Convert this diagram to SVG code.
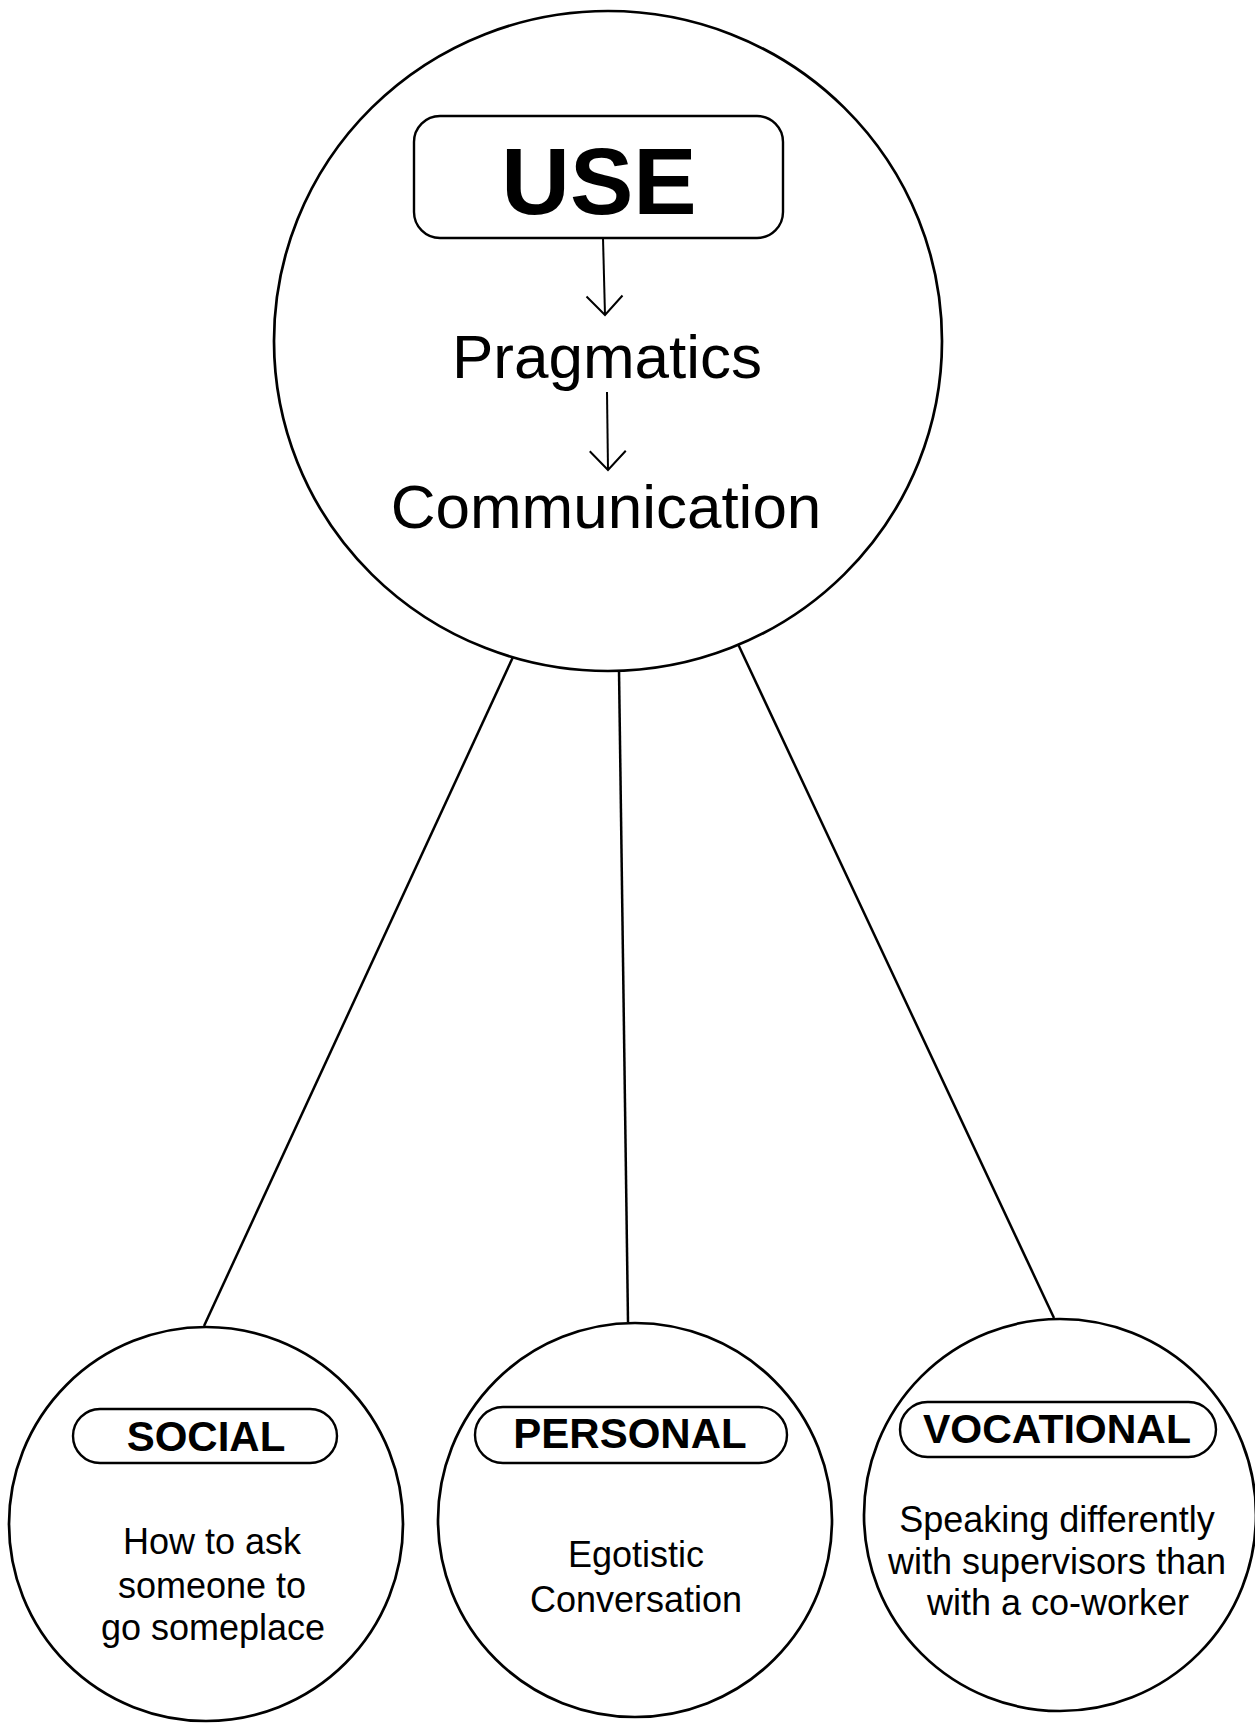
<svg xmlns="http://www.w3.org/2000/svg" width="1255" height="1723" viewBox="0 0 1255 1723">
  <style>
    .ring { fill: none; stroke: #000; stroke-width: 2.7; }
    .pill { fill: none; stroke: #000; stroke-width: 2.4; }
    .link { fill: none; stroke: #000; stroke-width: 2.5; }
    .flow { fill: none; stroke: #000; stroke-width: 2; }
    .title { font-family: "Liberation Sans", Arial, sans-serif; font-weight: bold; fill: #000; text-anchor: middle; }
    .big { font-family: "Liberation Sans", Arial, sans-serif; fill: #000; text-anchor: middle; font-size: 62px; }
    .body { font-family: "Liberation Sans", Arial, sans-serif; fill: #000; text-anchor: middle; font-size: 36px; }
  </style>
  <defs>
    <marker id="vhead" markerUnits="userSpaceOnUse" markerWidth="44" markerHeight="44" refX="0" refY="0" viewBox="-22 -22 44 44" orient="auto">
      <path d="M-19,-18 L0,0 L-19,18" fill="none" stroke="#000" stroke-width="2"/>
    </marker>
  </defs>
  <rect width="1255" height="1723" fill="#fff"/>

  <!-- spokes from the central circle down to the three domains -->
  <g id="connectors">
    <line class="link" x1="513" y1="657" x2="204" y2="1326"/>
    <line class="link" x1="619" y1="670" x2="628" y2="1322"/>
    <line class="link" x1="738" y1="644" x2="1054" y2="1318"/>
    <line class="flow" x1="603" y1="238" x2="605" y2="315" marker-end="url(#vhead)"/>
    <line class="flow" x1="607" y1="392" x2="608" y2="470" marker-end="url(#vhead)"/>
  </g>

  <!-- central concept -->
  <g id="use">
    <ellipse class="ring" cx="608" cy="341" rx="334" ry="330"/>
    <rect class="pill" x="414" y="116" width="369" height="122" rx="26"/>
    <text class="title" x="599" y="214" font-size="95">USE</text>
    <text class="big" x="607" y="378">Pragmatics</text>
    <text class="big" x="606" y="528">Communication</text>
  </g>

  <g id="social">
    <circle class="ring" cx="206" cy="1524" r="197"/>
    <rect class="pill" x="73" y="1409" width="264" height="54" rx="27"/>
    <text class="title" x="206" y="1451" font-size="42">SOCIAL</text>
    <text class="body" x="212" y="1554">How to ask</text>
    <text class="body" x="212" y="1598">someone to</text>
    <text class="body" x="213" y="1640">go someplace</text>
  </g>

  <g id="personal">
    <circle class="ring" cx="635" cy="1520" r="197"/>
    <rect class="pill" x="475" y="1407" width="312" height="56" rx="28"/>
    <text class="title" x="630" y="1448" font-size="42">PERSONAL</text>
    <text class="body" x="636" y="1567">Egotistic</text>
    <text class="body" x="636" y="1612">Conversation</text>
  </g>

  <g id="vocational">
    <circle class="ring" cx="1060" cy="1515" r="196"/>
    <rect class="pill" x="900" y="1402" width="316" height="55" rx="27.5"/>
    <text class="title" x="1057" y="1443" font-size="41">VOCATIONAL</text>
    <text class="body" x="1057" y="1532">Speaking differently</text>
    <text class="body" x="1057" y="1574">with supervisors than</text>
    <text class="body" x="1058" y="1615">with a co-worker</text>
  </g>
</svg>
